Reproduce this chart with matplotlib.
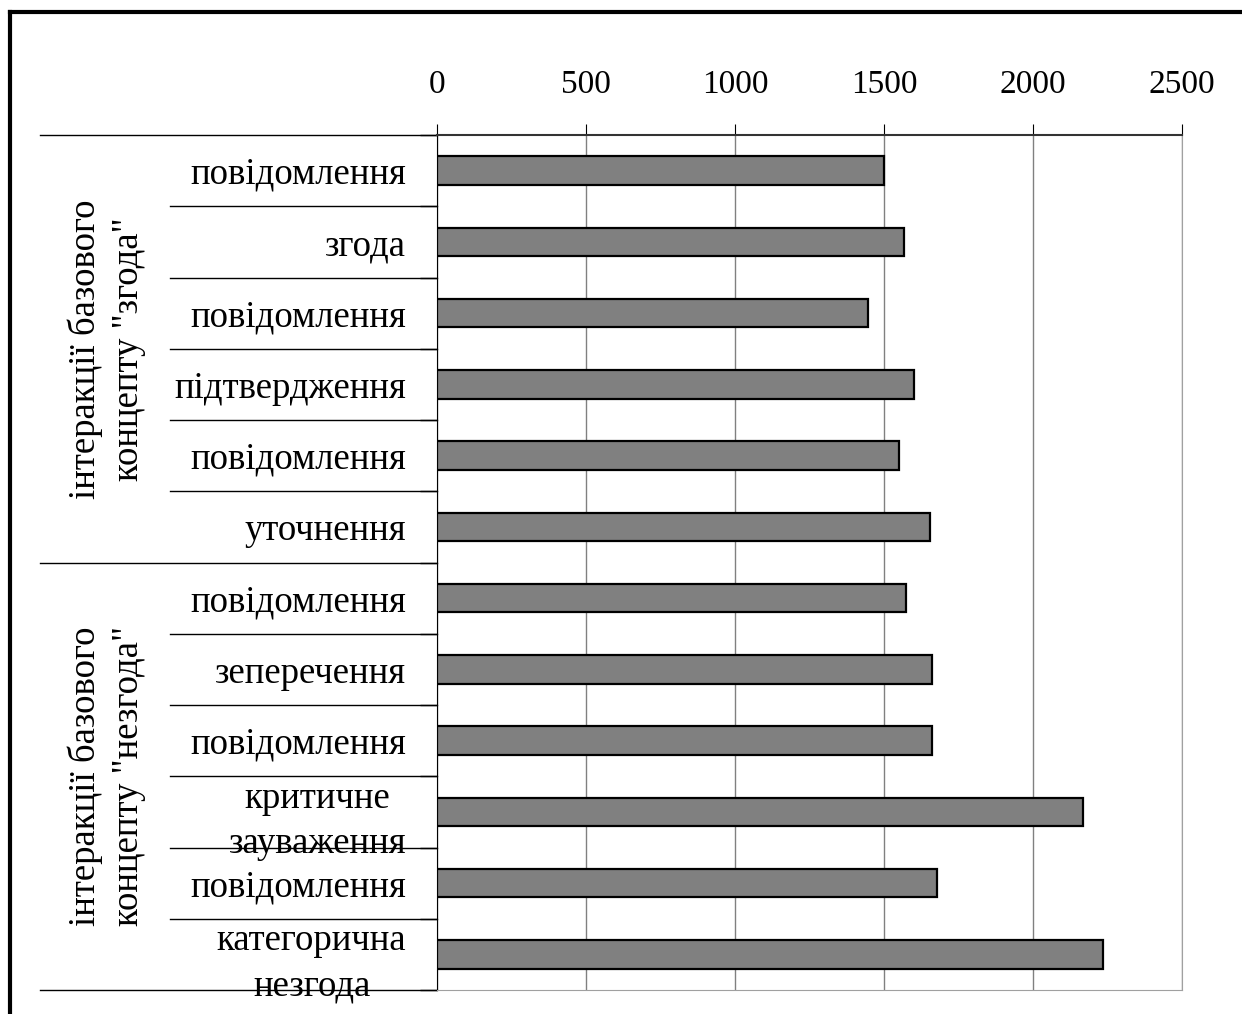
import matplotlib
matplotlib.use("Agg")
import matplotlib.pyplot as plt
import matplotlib.transforms as mtransforms
from matplotlib.lines import Line2D

plt.rcParams["font.family"] = ["Liberation Serif", "DejaVu Serif"]

# top-to-bottom order of rows
categories = [
    "повідомлення", "згода", "повідомлення", "підтвердження", "повідомлення", "уточнення",
    "повідомлення", "зеперечення", "повідомлення", "критичне\nзауваження", "повідомлення",
    "категорична\nнезгода",
]
values = [1500, 1567, 1446, 1601, 1550, 1654, 1574, 1661, 1661, 2168, 1678, 2235]
groups = ["інтеракції базового\nконцепту \"згода\"", "інтеракції базового\nконцепту \"незгода\""]
group_sizes = [6, 6]
x_ticks = [0, 500, 1000, 1500, 2000, 2500]

W, H = 1242, 1014
fig = plt.figure(figsize=(W / 100, H / 100), dpi=100)
ax = fig.add_axes([437 / W, 1 - 990 / H, 745 / W, 855 / H])

y = list(range(len(categories)))
ax.barh(y, values, height=0.4, color="#808080", edgecolor="black", linewidth=1.6, zorder=3)

ax.set_xlim(0, 2500)
ax.set_ylim(len(categories) - 0.5, -0.5)
ax.set_xticks(x_ticks)
ax.xaxis.tick_top()
ax.tick_params(axis="x", direction="out", length=8, width=0.8, pad=17, labelsize=24)
ax.grid(axis="x", color="#808080", linewidth=1.0, zorder=0)

ax.set_yticks(y)
ax.set_yticklabels(categories, fontsize=26.5, ha="right", multialignment="center")
for lbl in ax.get_yticklabels():
    lbl.set_linespacing(1.4)
ax.tick_params(axis="y", length=0, pad=22)
ax.set_yticks([i - 0.5 for i in range(len(categories) + 1)], minor=True)
ax.tick_params(axis="y", which="minor", length=12, width=1.0, direction="out")

for side in ["right", "bottom"]:
    ax.spines[side].set_color("#a0a0a0")
ax.spines["top"].set_color("#333333")
ax.spines["top"].set_linewidth(1.5)
ax.spines["left"].set_color("black")

# separators between category labels
trans = mtransforms.blended_transform_factory(ax.transAxes, ax.transData)
start = 0
bounds = [-0.5]
for n in group_sizes:
    start += n
    bounds.append(start - 0.5)
for b in [i - 0.5 for i in range(len(categories) + 1)]:
    x0 = -0.533 if b in bounds else -0.358
    ax.plot([x0, 0], [b, b], transform=trans, color="black", linewidth=1.0,
            clip_on=False, zorder=1)

# rotated group names
start = 0
for name, n in zip(groups, group_sizes):
    yc = start + (n - 1) / 2
    ax.text(-0.443, yc, name, transform=trans, rotation=90, ha="center", va="center",
            multialignment="center", fontsize=26.5, linespacing=1.3)
    start += n

# outer frame
fig.add_artist(Line2D([10 / W, 10 / W], [0, 1 - 12 / H], color="black", linewidth=3))
fig.add_artist(Line2D([10 / W, 1], [1 - 12 / H, 1 - 12 / H], color="black", linewidth=3))

fig.savefig("out.png", dpi=100)
